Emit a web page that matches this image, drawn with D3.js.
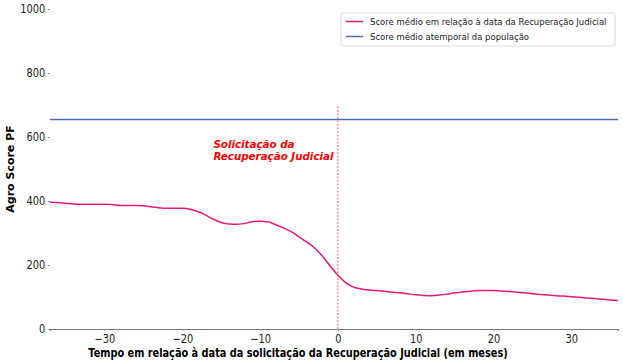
<!DOCTYPE html>
<html>
<head>
<meta charset="utf-8">
<script src="https://cdn.jsdelivr.net/npm/d3@7"></script>
<style>
  body { margin: 0; background: #fff; }
  text { font-family: "DejaVu Sans", sans-serif; }
</style>
</head>
<body>
<div id="chart"></div>
<script>
// meses relativos à data da solicitação
const months = d3.range(-37, 37);
// score médio em relação à data da RJ
const scoreRJ = [
  396, 395, 393, 391, 390, 390, 390, 390, 389, 386,
  386, 386, 385, 382, 379, 377, 377, 377, 374, 367,
  356, 343, 333, 328, 327, 330, 335, 337, 335, 326,
  316, 304, 288, 272, 253, 228, 197, 168, 145, 131,
  125, 122, 120, 118, 115, 113, 110, 107, 105, 104,
  106, 109, 113, 116, 118, 120, 120, 120, 119, 117,
  115, 113, 110, 108, 106, 104, 103, 101, 99, 97,
  95, 93, 91, 89
];
const scorePopulacao = 655;
const yTicks = [0, 200, 400, 600, 800, 1000];
const xTicks = [-30, -20, -10, 0, 10, 20, 30];
const legendLabels = [
  "Score médio em relação à data da Recuperação Judicial",
  "Score médio atemporal da população"
];
const colors = ["#e8197a", "#4c6fae"];

const width = 623;
const height = 364;
const margin = {top: 9, right: 5, bottom: 35, left: 50};

const data = months.map((m, i) => ({m: m, v: scoreRJ[i]}));

const x = d3.scaleLinear()
            .domain([-37, 36])
            .range([margin.left, width - margin.right]);

const y = d3.scaleLinear()
            .domain([0, 1000])
            .range([height - margin.bottom, margin.top]);

const svg = d3.select("#chart").append("svg")
              .attr("width", width)
              .attr("height", height);

// eixo y (sem spine)
svg.append("g")
    .attr("transform", `translate(${margin.left},0)`)
    .call(d3.axisLeft(y).tickValues(yTicks).tickFormat(d3.format("d")).tickSize(2).tickPadding(4))
    .call(g => g.select(".domain").remove())
    .call(g => g.selectAll(".tick line").attr("stroke", "#999"))
    .call(g => g.selectAll(".tick text")
                .attr("fill", "#222")
                .attr("transform", "scale(0.8,1)")
                .style("font-size", "12.3px"));

// eixo x
svg.append("g")
    .attr("transform", `translate(0,${y(0)})`)
    .call(d3.axisBottom(x).tickValues(xTicks).tickSize(2).tickPadding(3))
    .call(g => g.select(".domain").attr("stroke", "#777").attr("stroke-width", 1.2))
    .call(g => g.selectAll(".tick line").attr("stroke", "#999"))
    .call(g => g.selectAll(".tick text")
                .attr("fill", "#222")
                .attr("transform", "scale(0.8,1)")
                .style("font-size", "12.3px"));

// linha da população
svg.append("line")
    .attr("x1", x(-37))
    .attr("x2", x(36))
    .attr("y1", y(scorePopulacao))
    .attr("y2", y(scorePopulacao))
    .attr("stroke", colors[1])
    .attr("stroke-width", 1.5);

// marco da solicitação
svg.append("line")
    .attr("x1", x(0))
    .attr("x2", x(0))
    .attr("y1", y(0))
    .attr("y2", y(700))
    .attr("stroke", "red")
    .attr("stroke-opacity", 0.8)
    .attr("stroke-dasharray", "2,1.5")
    .attr("stroke-width", 0.8);

const line = d3.line()
               .x(d => x(d.m))
               .y(d => y(d.v))
               .curve(d3.curveMonotoneX);

svg.append("path")
    .datum(data)
    .attr("fill", "none")
    .attr("stroke", colors[0])
    .attr("stroke-width", 1.5)
    .attr("d", line);

// anotação
const ann = svg.append("text")
               .attr("x", x(-16))
               .attr("y", y(530))
               .attr("fill", "red")
               .style("font-size", "10.3px")
               .style("font-weight", "bold")
               .style("font-style", "italic");
ann.append("tspan").attr("x", x(-16)).attr("dy", "-1.15em").text("Solicitação da");
ann.append("tspan").attr("x", x(-16)).attr("dy", "1.2em").text("Recuperação Judicial");

// rótulos dos eixos
svg.append("text")
    .attr("transform", "translate(298,357) scale(0.85,1)")
    .attr("text-anchor", "middle")
    .style("font-size", "11.5px")
    .style("font-weight", "bold")
    .text("Tempo em relação à data da solicitação da Recuperação Judicial (em meses)");

svg.append("text")
    .attr("transform", `translate(14,${(y(0) + y(1000)) / 2}) rotate(-90)`)
    .attr("text-anchor", "middle")
    .style("font-size", "11px")
    .style("font-weight", "bold")
    .text("Agro Score PF");

// legenda
const legend = svg.append("g")
                  .attr("transform", "translate(341,13)");

legend.append("rect")
    .attr("width", 274)
    .attr("height", 33)
    .attr("rx", 2)
    .attr("fill", "#fff")
    .attr("stroke", "#ddd");

const item = legend.selectAll("g")
                   .data(legendLabels)
                   .join("g")
                   .attr("transform", (d, i) => `translate(0,${8.5 + i * 15})`);

item.append("line")
    .attr("x1", 5)
    .attr("x2", 22)
    .attr("stroke", (d, i) => colors[i])
    .attr("stroke-width", 1.5);

item.append("text")
    .attr("transform", "translate(29,0) scale(0.885,1)")
    .attr("dy", "0.35em")
    .style("font-size", "9.6px")
    .attr("fill", "#222")
    .text(d => d);
</script>
</body>
</html>
